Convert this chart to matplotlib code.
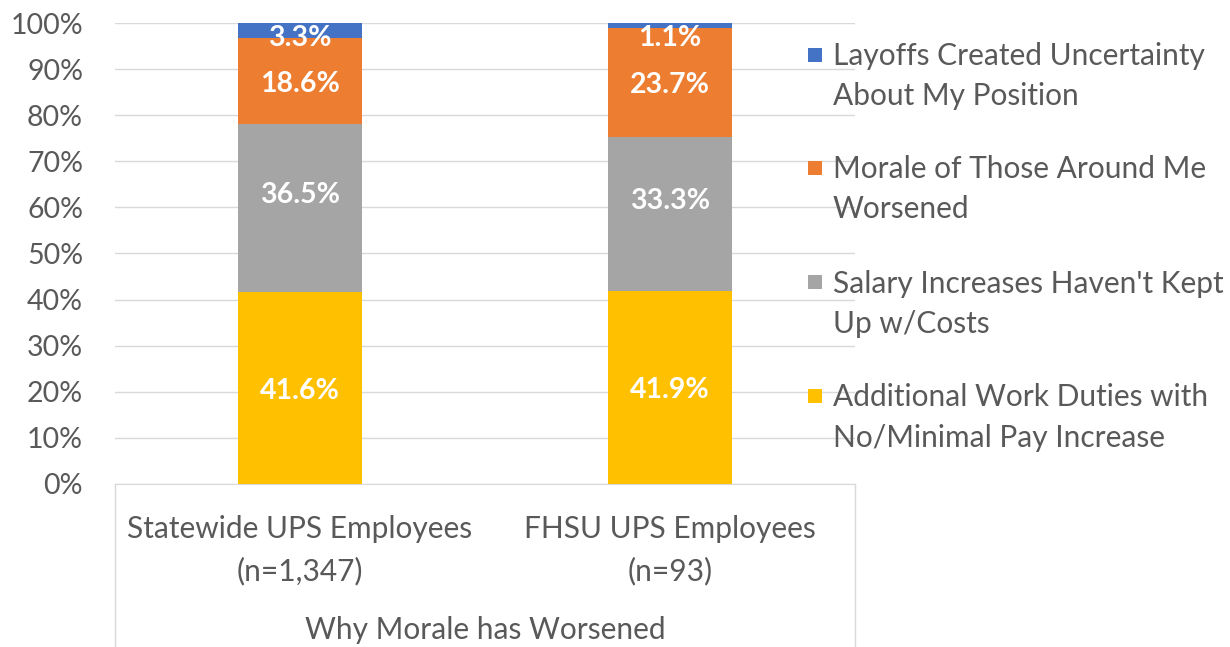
import matplotlib
matplotlib.use("Agg")
import matplotlib.pyplot as plt
from matplotlib.patches import Rectangle
import numpy as np

categories = ["Statewide UPS Employees\n(n=1,347)", "FHSU UPS Employees\n(n=93)"]
series_names = [
    "Additional Work Duties with\nNo/Minimal Pay Increase",
    "Salary Increases Haven't Kept\nUp w/Costs",
    "Morale of Those Around Me\nWorsened",
    "Layoffs Created Uncertainty\nAbout My Position",
]
additional = [41.6, 41.9]
salary = [36.5, 33.3]
morale = [18.6, 23.7]
layoffs = [3.3, 1.1]
group_label = "Why Morale has Worsened"
y_ticks = [0, 10, 20, 30, 40, 50, 60, 70, 80, 90, 100]

colors = ["#FFC000", "#A5A5A5", "#ED7D31", "#4472C4"]
label_shift = [0, 3.4, 0, 0]  # manual label nudges as in the original
txt = "#595959"
font = "Lato"
plt.rcParams["font.family"] = [font, "DejaVu Sans"]
FS = 21.5

W, H = 1230, 647
fig = plt.figure(figsize=(W / 100, H / 100), dpi=100)
ax = fig.add_axes([115 / W, 1 - 484 / H, (855 - 115) / W, (484 - 23) / H])

values = [additional, salary, morale, layoffs]
x = np.arange(len(categories))
bottom = np.zeros(len(categories))
for vals, col, sh in zip(values, colors, label_shift):
    v = np.array(vals)
    ax.bar(x, v, 0.333, bottom=bottom, color=col, zorder=3)
    for xi, b, vi in zip(x, bottom, v):
        yc = min(b + vi / 2 + sh, 97.3)
        ax.text(xi, yc, f"{vi:.1f}%", ha="center", va="center_baseline", color="white",
                fontsize=20.5, fontweight="bold", zorder=4)
    bottom += v

ax.set_xlim(-0.5, len(categories) - 0.5)
ax.set_ylim(0, 100)
ax.set_yticks(y_ticks)
ax.set_yticklabels([f"{t}%" for t in y_ticks], color=txt, fontsize=20.5)
ax.grid(axis="y", color="#D9D9D9", linewidth=1, zorder=0)
for s in ["top", "right", "left"]:
    ax.spines[s].set_visible(False)
ax.spines["bottom"].set_color("#D9D9D9")
ax.tick_params(axis="y", length=0, pad=23)
ax.tick_params(axis="x", length=0, pad=22)
ax.set_xticks(x)
ax.set_xticklabels(categories, color=txt, fontsize=FS, linespacing=1.62)

# multi-level category box
depth = (H - 484) / (484 - 23)
for xx in (0, 1):
    ax.plot([xx, xx], [0, -depth - 0.01], transform=ax.transAxes, color="#D9D9D9",
            lw=1, clip_on=False)
ax.text(0.5, -(630 - 484) / (484 - 23), group_label, transform=ax.transAxes,
        ha="center", va="center", color=txt, fontsize=FS)

# legend (manual, handle aligned with first line)
legend_y = [55, 168, 282, 396]
for name, col, yy in zip(series_names[::-1], colors[::-1], legend_y):
    fig.patches.append(Rectangle((808 / W, 1 - (yy + 7) / H), 14 / W, 14 / H,
                                 transform=fig.transFigure, facecolor=col, edgecolor="none"))
    for i, line in enumerate(name.split("\n")):
        fig.text(833 / W, 1 - (yy - 1 + 40 * i) / H, line, ha="left", va="center_baseline",
                 color=txt, fontsize=FS)

fig.savefig("out.png", dpi=100)
